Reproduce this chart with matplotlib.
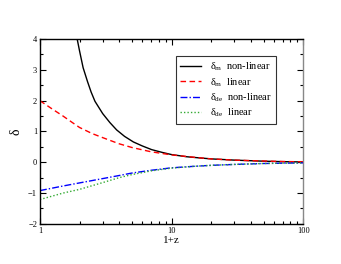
import matplotlib
matplotlib.use('Agg')
import matplotlib.pyplot as plt
from matplotlib.ticker import LogLocator, MultipleLocator, NullFormatter, FixedLocator

plt.rcParams['font.family'] = ['Liberation Serif', 'DejaVu Serif']
plt.rcParams['mathtext.fontset'] = 'custom'
plt.rcParams['mathtext.rm'] = 'Liberation Serif'

# delta_m non-linear
x_mnl = [1.85, 1.92, 2.0, 2.13, 2.3, 2.45, 2.62, 3.0, 3.4, 3.83, 4.4, 5.13, 6.0, 7.07, 8.5, 10, 13, 16, 20, 30, 50, 70, 100]
d_mnl = [4.4, 4.0, 3.62, 3.07, 2.62, 2.28, 1.98, 1.58, 1.29, 1.05, 0.84, 0.66, 0.53, 0.41, 0.32, 0.25, 0.18, 0.145, 0.11, 0.07, 0.035, 0.02, 0.01]

# delta_m linear
x_ml = [1, 1.25, 1.5, 1.75, 2, 2.5, 3, 4, 5, 7, 10, 15, 20, 30, 50, 70, 100]
d_ml = [2.0, 1.72, 1.5, 1.3, 1.13, 0.93, 0.8, 0.6, 0.48, 0.34, 0.24, 0.16, 0.11, 0.07, 0.04, 0.025, 0.015]

# delta_de non-linear
x_dnl = [1, 1.5, 2, 3, 4, 5, 7, 10, 15, 20, 30, 50, 70, 100]
d_dnl = [-0.92, -0.77, -0.67, -0.53, -0.43, -0.35, -0.26, -0.18, -0.13, -0.1, -0.07, -0.04, -0.03, -0.02]

# delta_de linear
x_dl = [1, 1.5, 2, 3, 4, 5, 7, 10, 15, 20, 30, 50, 70, 100]
d_dl = [-1.21, -1.0, -0.88, -0.66, -0.5, -0.4, -0.28, -0.19, -0.13, -0.1, -0.07, -0.04, -0.03, -0.02]

fig = plt.figure(figsize=(3.41, 2.64), dpi=100)
ax = fig.add_axes([0.117, 0.152, 0.772, 0.70])

ax.plot(x_mnl, d_mnl, color='black', lw=1.0, label='δ$_{\\rm m}$  non-linear')
ax.plot(x_ml, d_ml, color='red', lw=1.0, ls=(0, (4, 2.5)), label='δ$_{\\rm m}$  linear')
ax.plot(x_dnl, d_dnl, color='blue', lw=1.0, ls=(0, (5, 1.5, 1, 1.5)), label='δ$_{\\rm de}$  non-linear')
ax.plot(x_dl, d_dl, color='#33aa33', lw=1.0, ls=(0, (1, 1.5)), label='δ$_{\\rm de}$  linear')

ax.set_xscale('log')
ax.set_xlim(1, 100)
ax.set_ylim(-2, 4)
ax.xaxis.set_major_locator(FixedLocator([1, 10, 100]))
ax.set_xticklabels(['1', '10', '100'])
ax.xaxis.set_minor_locator(LogLocator(base=10, subs=range(2, 10)))
ax.xaxis.set_minor_formatter(NullFormatter())
ax.yaxis.set_major_locator(MultipleLocator(1))
ax.yaxis.set_minor_locator(MultipleLocator(0.5))

ax.tick_params(which='both', direction='in', top=True, right=True, labelsize=6, pad=2)
ax.tick_params(which='major', length=4, width=0.8)
ax.tick_params(which='minor', length=2, width=0.8)
for s in ax.spines.values():
    s.set_linewidth(1.0)
ax.spines['right'].set_color('#888888')

ax.set_xlabel('1+z', fontsize=8, labelpad=1)
ax.set_ylabel('δ', fontsize=10, labelpad=4)

leg = ax.legend(loc='upper right', bbox_to_anchor=(0.915, 0.935), fontsize=7.5, frameon=True,
                fancybox=False, edgecolor='black', handlelength=2.0, borderpad=0.4,
                labelspacing=0.25, handletextpad=0.8)
leg.get_frame().set_linewidth(0.8)

fig.savefig('out.png', dpi=100)
